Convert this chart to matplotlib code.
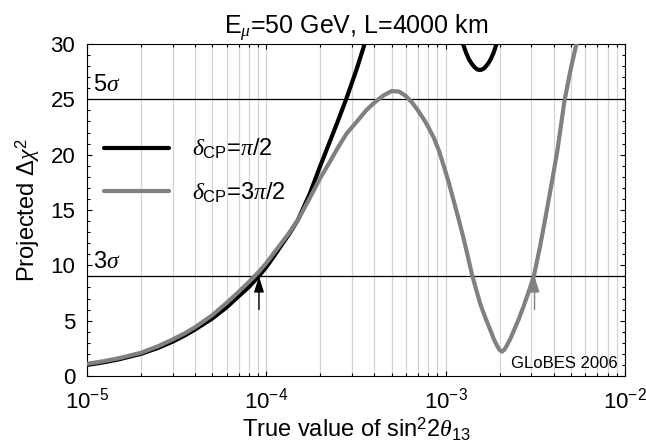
import numpy as np
import matplotlib
matplotlib.use("Agg")
import matplotlib.pyplot as plt
from matplotlib.ticker import LogLocator, MultipleLocator, NullFormatter
import matplotlib.transforms as mtransforms

plt.rcParams['font.family'] = ['Liberation Sans', 'DejaVu Sans']
plt.rcParams['mathtext.fontset'] = 'custom'
plt.rcParams['mathtext.rm'] = 'Liberation Sans'
plt.rcParams['mathtext.it'] = 'Liberation Serif:italic'
plt.rcParams['mathtext.bf'] = 'Liberation Sans:bold'

# ---- data ----
x_pi2 = [1e-5, 1.25e-5, 1.5e-5, 2e-5, 2.5e-5, 3e-5, 3.5e-5, 4e-5, 5e-5, 6e-5,
         7e-5, 8e-5, 9e-5, 1e-4, 1.1e-4, 1.2e-4, 1.35e-4, 1.5e-4, 1.75e-4,
         2e-4, 2.25e-4, 2.5e-4, 2.8e-4, 3.2e-4, 3.5e-4, 3.8e-4, 4.5e-4, 6e-4,
         8e-4, 1e-3, 1.15e-3, 1.25e-3, 1.3e-3, 1.35e-3, 1.4e-3, 1.45e-3,
         1.5e-3, 1.55e-3, 1.6e-3, 1.65e-3, 1.72e-3, 1.78e-3, 1.85e-3, 1.92e-3,
         2.1e-3, 2.5e-3, 3e-3]
chi_pi2 = [1.0, 1.25, 1.5, 2.0, 2.55, 3.1, 3.65, 4.2, 5.2, 6.2,
           7.2, 8.05, 8.95, 9.85, 10.8, 11.7, 12.9, 14.1, 16.5,
           19.0, 21.1, 23.0, 25.1, 27.8, 29.8, 31.8, 36.0, 42.0,
           42.0, 37.0, 32.5, 30.0, 29.2, 28.6, 28.2, 27.9,
           27.7, 27.65, 27.7, 27.85, 28.2, 28.6, 29.2, 30.0,
           32.0, 37.0, 42.0]

x_3pi2 = [1e-5, 1.25e-5, 1.5e-5, 2e-5, 2.5e-5, 3e-5, 3.5e-5, 4e-5, 5e-5, 6e-5,
          7e-5, 8e-5, 9e-5, 1e-4, 1.1e-4, 1.2e-4, 1.35e-4, 1.5e-4, 1.75e-4,
          2e-4, 2.25e-4, 2.5e-4, 2.8e-4, 3.2e-4, 3.6e-4, 4e-4, 4.5e-4, 5e-4,
          5.5e-4, 6e-4, 6.5e-4, 7e-4, 7.55e-4, 8e-4, 8.6e-4, 9.2e-4, 9.75e-4,
          1.04e-3, 1.11e-3, 1.18e-3, 1.26e-3, 1.33e-3, 1.40e-3, 1.48e-3,
          1.56e-3, 1.67e-3, 1.78e-3, 1.86e-3, 1.94e-3, 2.0e-3, 2.06e-3,
          2.13e-3, 2.2e-3, 2.3e-3, 2.4e-3, 2.55e-3, 2.72e-3, 2.9e-3, 3.1e-3,
          3.35e-3, 3.6e-3, 3.9e-3, 4.2e-3, 4.59e-3, 4.96e-3, 5.41e-3, 5.8e-3]
chi_3pi2 = [1.1, 1.35, 1.6, 2.1, 2.7, 3.3, 3.85, 4.4, 5.5, 6.6,
            7.6, 8.5, 9.35, 10.2, 11.1, 11.9, 13.0, 14.1, 16.1,
            17.9, 19.3, 20.6, 21.9, 23.0, 24.0, 24.7, 25.35, 25.75,
            25.7, 25.3, 24.7, 24.0, 23.2, 22.5, 21.5, 20.3, 19.0,
            17.5, 15.8, 14.2, 12.4, 10.8, 9.2, 7.8,
            6.5, 5.2, 4.1, 3.3, 2.7, 2.35, 2.2,
            2.4, 2.8, 3.4, 4.1, 5.1, 6.3, 7.6, 9.0,
            11.6, 14.3, 17.4, 20.4, 24.8, 27.6, 30.3, 32.5]

labels = [r'$\delta_{\rm CP}$=$\pi$/2', r'$\delta_{\rm CP}$=3$\pi$/2']
sigma_levels = [25, 9]
sigma_labels = [r'5$\sigma$', r'3$\sigma$']
arrow_x = [9.1e-5, 3.13e-3]
arrow_from, arrow_to = 6.0, 9.0
colors = ['black', '#808080']

fig = plt.figure(figsize=(6.46, 4.48), dpi=100)
ax = fig.add_axes([87/646, 1-376/448, (625-87)/646, (376-44)/448])

ax.set_xscale('log')
ax.set_xlim(1e-5, 1e-2)
ax.set_ylim(0, 30)

ax.xaxis.set_major_locator(LogLocator(base=10, numticks=10))
ax.xaxis.set_minor_locator(LogLocator(base=10, subs=np.arange(2, 10), numticks=20))
ax.xaxis.set_minor_formatter(NullFormatter())
ax.grid(True, which='both', axis='x', color='#d4d4d4', lw=0.9, zorder=0)

ax.yaxis.set_major_locator(MultipleLocator(5))
ax.yaxis.set_minor_locator(MultipleLocator(1))

for lvl, lab in zip(sigma_levels, sigma_labels):
    ax.axhline(lvl, color='black', lw=0.9, zorder=2)
    ax.text(0.012, lvl + 0.3, lab, transform=ax.get_yaxis_transform(),
            fontsize=17, ha='left', va='bottom')

ax.plot(x_pi2, chi_pi2, color=colors[0], lw=3.0, label=labels[0], zorder=3,
        solid_capstyle='round', solid_joinstyle='round')
ax.plot(x_3pi2, chi_3pi2, color=colors[1], lw=3.0, label=labels[1], zorder=4,
        solid_capstyle='round', solid_joinstyle='round')

for xa, c in zip(arrow_x, colors):
    ax.annotate('', xy=(xa, arrow_to), xytext=(xa, arrow_from),
                arrowprops=dict(arrowstyle='-|>,head_length=0.95,head_width=0.3',
                                color=c, lw=1.0, shrinkA=0, shrinkB=0),
                zorder=5)

leg = ax.legend(loc='center left', bbox_to_anchor=(0.031, 0.618), frameon=False,
                fontsize=17, handlelength=2.75, handletextpad=1.0,
                labelspacing=0.8, borderpad=0, borderaxespad=0)

ax.text(0.987, 0.7, 'GLoBES 2006', fontsize=12, ha='right', va='baseline',
        transform=mtransforms.blended_transform_factory(ax.transAxes, ax.transData))

ax.tick_params(which='both', direction='in', top=True, right=True, width=0.8)
ax.tick_params(which='major', length=3.5, labelsize=16)
ax.tick_params(which='minor', length=2)
ax.tick_params(axis='y', which='major', pad=8.5)
ax.tick_params(axis='x', which='major', pad=8)

ax.set_xlabel(r'True value of sin$^2$2$\theta_{13}$', fontsize=17, labelpad=2)
ax.set_ylabel(r'Projected $\Delta\chi^2$', fontsize=17, labelpad=6)
ax.set_title(r'E$_\mu$=50 GeV, L=4000 km', fontsize=18, pad=6)

fig.savefig('out.png', dpi=100)
